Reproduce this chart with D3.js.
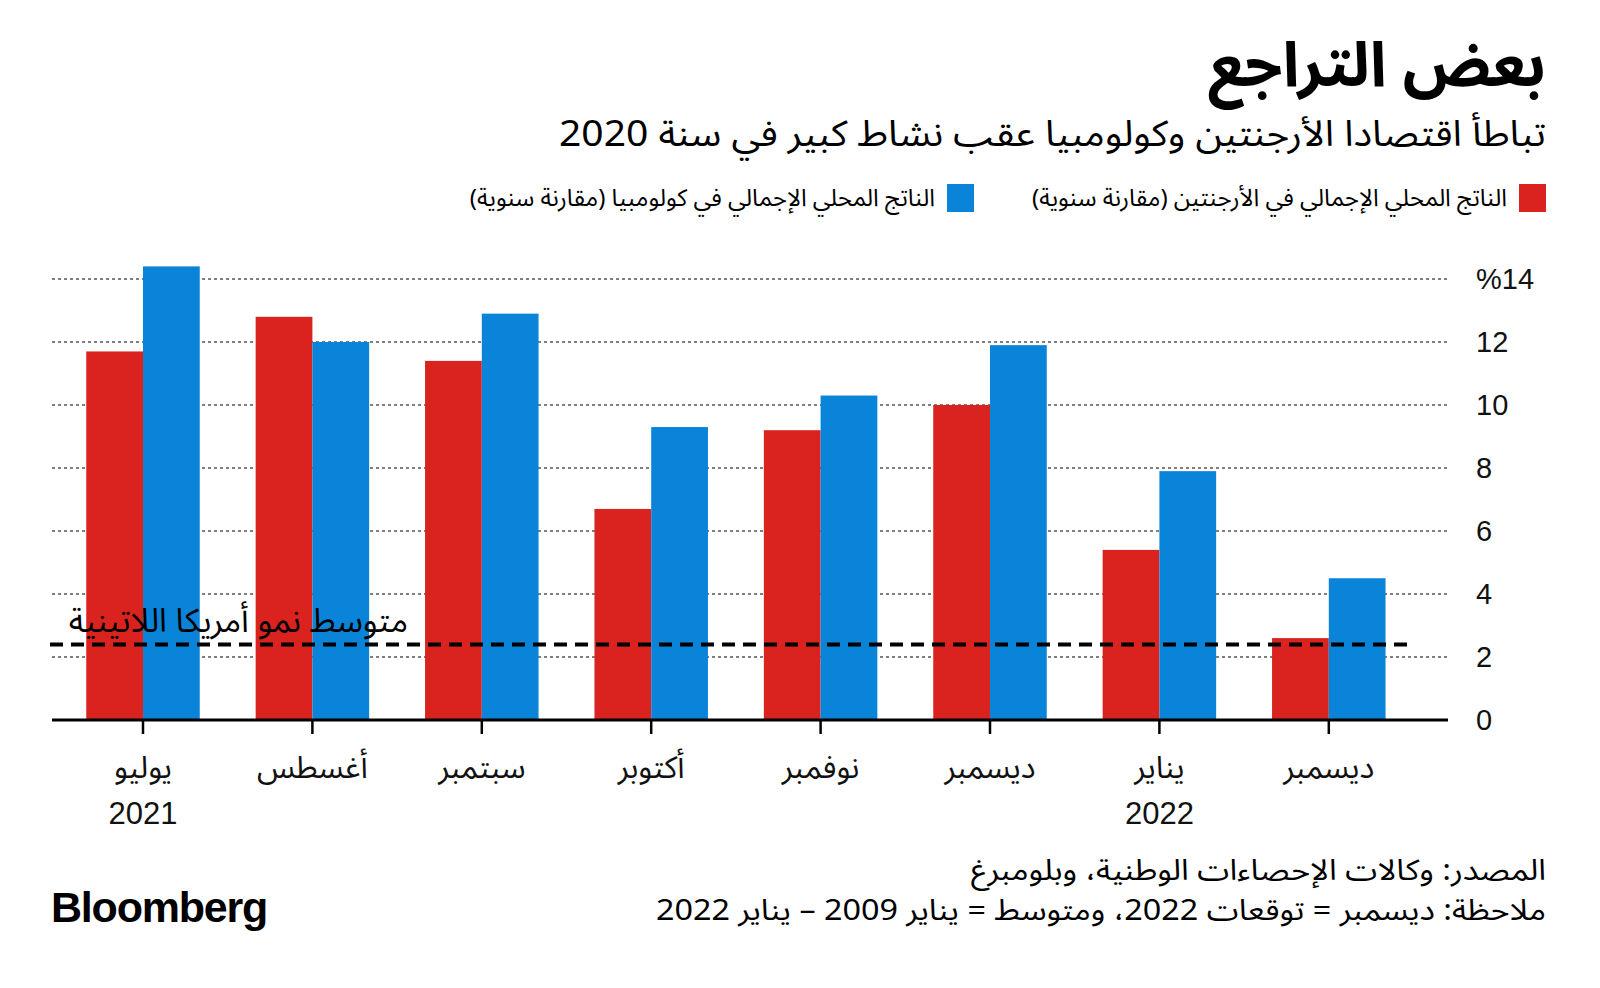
<!DOCTYPE html>
<html><head><meta charset="utf-8">
<script src="https://cdn.jsdelivr.net/npm/d3@7"></script>
<style>
html,body{margin:0;padding:0;background:#fff;}
svg{display:block;}
.ar{font-family:"Noto Sans Arabic","Noto Naskh Arabic","DejaVu Sans",sans-serif;}
.lat{font-family:"Liberation Sans",Arial,Helvetica,sans-serif;}
</style></head>
<body>
<svg id="c" width="1600" height="988"></svg>
<script>
// ---- data ----
const months = ["يوليو","أغسطس","سبتمبر","أكتوبر","نوفمبر","ديسمبر","يناير","ديسمبر"];
const years = ["2021","","","","","","2022",""];
const argentina = [11.7, 12.8, 11.4, 6.7, 9.2, 10.0, 5.4, 2.6];
const colombia = [14.4, 12.0, 12.9, 9.3, 10.3, 11.9, 7.9, 4.5];
const latamAverage = 2.4;
const yTicks = [0, 2, 4, 6, 8, 10, 12, 14];
const yTickLabels = ["0","2","4","6","8","10","12","%14"];
const seriesNames = ["الناتج المحلي الإجمالي في الأرجنتين (مقارنة سنوية)","الناتج المحلي الإجمالي في كولومبيا (مقارنة سنوية)"];
const title = "بعض التراجع";
const subtitle = "تباطأ اقتصادا الأرجنتين وكولومبيا عقب نشاط كبير في سنة 2020";
const avgLabel = "متوسط نمو أمريكا اللاتينية";
const sourceText = "المصدر: وكالات الإحصاءات الوطنية، وبلومبرغ";
const noteText = "ملاحظة: ديسمبر = توقعات 2022، ومتوسط = يناير 2009 – يناير 2022";

const RED = "#da231e", BLUE = "#0984d9";
const svg = d3.select("#c");

// scales
const x = d3.scaleBand().domain(d3.range(months.length)).range([58.3, 1413.5]).paddingInner(0.33).paddingOuter(0.165);
const xs = d3.scaleBand().domain([0,1]).range([0, x.bandwidth()]);
const y = d3.scaleLinear().domain([0,14]).range([720, 279]);

// gridlines
svg.append("g").selectAll("line").data(yTicks.filter(d=>d>0)).join("line")
  .attr("x1", 52).attr("x2", 1447).attr("y1", d=>y(d)).attr("y2", d=>y(d))
  .attr("stroke", "#000").attr("stroke-width", 1.2).attr("stroke-dasharray", "3,3");

// bars
const series = [argentina, colombia];
const colors = [RED, BLUE];
const g = svg.append("g");
series.forEach((vals, si) => {
  g.selectAll(null).data(vals).join("rect")
    .attr("x", (d,i)=>x(i)+xs(si)).attr("width", xs.bandwidth())
    .attr("y", d=>y(d)).attr("height", d=>y(0)-y(d))
    .attr("fill", colors[si]);
});

// average line
svg.append("line").attr("x1", 50).attr("x2", 1413)
  .attr("y1", y(latamAverage)).attr("y2", y(latamAverage))
  .attr("stroke", "#000").attr("stroke-width", 4).attr("stroke-dasharray", "13,8");
svg.append("text").attr("class","ar").attr("x", 408).attr("y", y(latamAverage)-12)
  .attr("direction","rtl").attr("text-anchor","start")
  .attr("font-size", 33).attr("fill","#000").text(avgLabel);

// baseline + ticks
svg.append("line").attr("x1", 52).attr("x2", 1448).attr("y1", y(0)).attr("y2", y(0))
  .attr("stroke","#000").attr("stroke-width",3);
const xAxis = d3.axisBottom(x).tickSize(14).tickFormat(()=> "");
const xg = svg.append("g").attr("transform", `translate(0,${y(0)})`).call(xAxis);
xg.select(".domain").remove();
xg.selectAll(".tick line").attr("stroke","#000").attr("stroke-width",2.5);

// x labels
svg.append("g").selectAll("text").data(months).join("text")
  .attr("class","ar").attr("x",(d,i)=>x(i)+x.bandwidth()/2).attr("y",778)
  .attr("text-anchor","middle").attr("font-size",31).attr("fill","#111").text(d=>d);
svg.append("g").selectAll("text").data(years).join("text")
  .attr("class","lat").attr("x",(d,i)=>x(i)+x.bandwidth()/2).attr("y",824)
  .attr("text-anchor","middle").attr("font-size",31).attr("fill","#111").text(d=>d);

// y axis labels
const yAxis = d3.axisRight(y).tickValues(yTicks).tickSize(0).tickPadding(0)
  .tickFormat((d,i)=>yTickLabels[i]);
const yg = svg.append("g").attr("transform","translate(1476,0)").call(yAxis);
yg.select(".domain").remove();
yg.selectAll("text").attr("class","lat").attr("font-size",29).attr("fill","#111")
  .attr("font-family","Liberation Sans, Arial, sans-serif");

// title & subtitle
svg.append("text").attr("class","ar").attr("x",1546).attr("y",86)
  .attr("direction","rtl").attr("text-anchor","start")
  .attr("font-size",62).attr("font-weight","bold").attr("fill","#000").text(title);
svg.append("text").attr("class","ar").attr("x",1546).attr("y",146)
  .attr("direction","rtl").attr("text-anchor","start")
  .attr("font-size",36).attr("textLength",987).attr("lengthAdjust","spacingAndGlyphs")
  .attr("fill","#000").text(subtitle);

// legend
const legendX = [1546, 974];
series.forEach((s, si) => {
  svg.append("rect").attr("x", legendX[si]-27).attr("y",184).attr("width",27).attr("height",28).attr("fill",colors[si]);
  svg.append("text").attr("class","ar").attr("x", legendX[si]-39).attr("y",206)
    .attr("direction","rtl").attr("text-anchor","start")
    .attr("font-size",24).attr("fill","#000").text(seriesNames[si]);
});

// footer
svg.append("text").attr("class","ar").attr("x",1546).attr("y",880)
  .attr("direction","rtl").attr("text-anchor","start")
  .attr("font-size",29).attr("textLength",575).attr("lengthAdjust","spacingAndGlyphs")
  .attr("fill","#000").text(sourceText);
svg.append("text").attr("class","ar").attr("x",1546).attr("y",920)
  .attr("direction","rtl").attr("text-anchor","start")
  .attr("font-size",29).attr("textLength",890).attr("lengthAdjust","spacingAndGlyphs")
  .attr("fill","#000").text(noteText);
svg.append("text").attr("class","lat").attr("x",51).attr("y",922)
  .attr("font-size",43).attr("font-weight","bold").attr("letter-spacing",-1.2).attr("fill","#000").text("Bloomberg");
</script>
</body></html>
